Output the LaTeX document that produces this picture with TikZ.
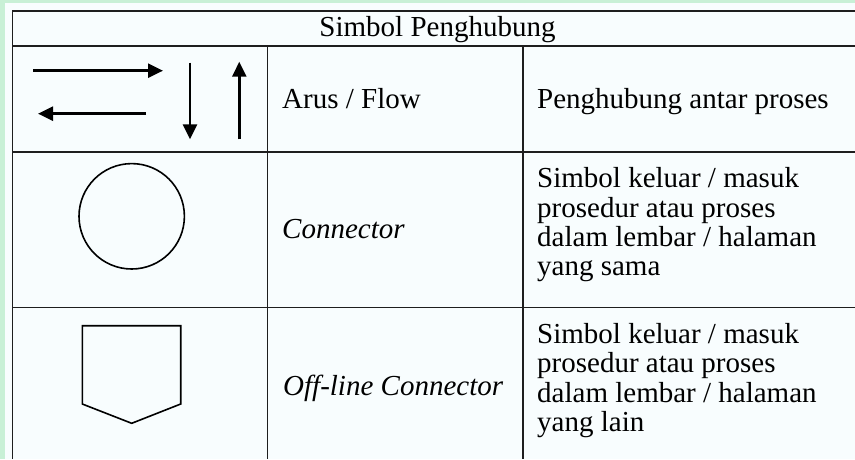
\documentclass[tikz,border=0pt]{standalone}
\usepackage{fontspec}
\setmainfont{Liberation Serif}
\usetikzlibrary{arrows.meta}
\definecolor{bgc}{RGB}{248,253,254}
\definecolor{edgec}{RGB}{200,240,214}
\definecolor{gridc}{RGB}{30,30,30}
\begin{document}
\begin{tikzpicture}[x=1pt,y=-1pt,
  grid/.style={draw=gridc,line width=1.9pt},
  txt/.style={inner sep=0pt,anchor=base west,font=\fontsize{29}{29.2}\selectfont,align=left},
  flow/.style={line width=2.6pt,-{Triangle[length=15pt,width=14pt]}},
  sym/.style={draw=black,line width=1.6pt}]
\useasboundingbox (0,0) rectangle (855,459);
\fill[bgc] (0,0) rectangle (855,459);
\fill[edgec] (0,0) rectangle (5,459);
\fill[edgec] (0,0) rectangle (855,3);
% table grid
\draw[grid] (12.5,459) -- (12.5,11) -- (862,11);
\draw[grid] (12.5,46) -- (862,46);
\draw[grid] (12.5,152) -- (862,152);
\draw[grid] (12.5,307.5) -- (862,307.5);
\draw[grid] (267.5,46) -- (267.5,459);
\draw[grid] (522.7,46) -- (522.7,459);
% header
\node[txt,anchor=base] (head) at (437.5,36.7) {Simbol Penghubung};
% row 1: flow arrows
\coordinate (r1s) at (33,70.7);
\coordinate (r1e) at (163,70.7);
\coordinate (l1s) at (146,113.7);
\coordinate (l1e) at (38,113.7);
\coordinate (d1s) at (190,62.7);
\coordinate (d1e) at (190,139.3);
\coordinate (u1s) at (239.3,139.3);
\coordinate (u1e) at (239.3,61.7);
\draw[flow] (r1s) -- (r1e);
\draw[flow] (l1s) -- (l1e);
\draw[flow] (d1s) -- (d1e);
\draw[flow] (u1s) -- (u1e);
\node[txt] (flowname) at (282,108) {Arus / Flow};
\node[txt] (flowdesc) at (537,108) {Penghubung antar proses};
% row 2: connector
\node[sym,circle,minimum size=105.4pt,inner sep=0pt] (conn) at (131.7,216.3) {};
\node[txt] (connname) at (282,238.5) {\itshape Connector};
\node[txt] (conndesc) at (537,275.5) {Simbol keluar / masuk\\prosedur atau proses\\dalam lembar / halaman\\yang sama};
% row 3: off-line connector
\draw[sym,line join=miter] (82.3,325.7) -- (180.7,325.7) -- (180.7,404) -- (131.7,423.3) -- (82.3,404) -- cycle;
\node[txt] (offname) at (283,395.7) {\itshape Off-line Connector};
\node[txt,font=\fontsize{29}{29.4}\selectfont] (offdesc) at (537,431.5) {Simbol keluar / masuk\\prosedur atau proses\\dalam lembar / halaman\\yang lain};
\end{tikzpicture}
\end{document}
